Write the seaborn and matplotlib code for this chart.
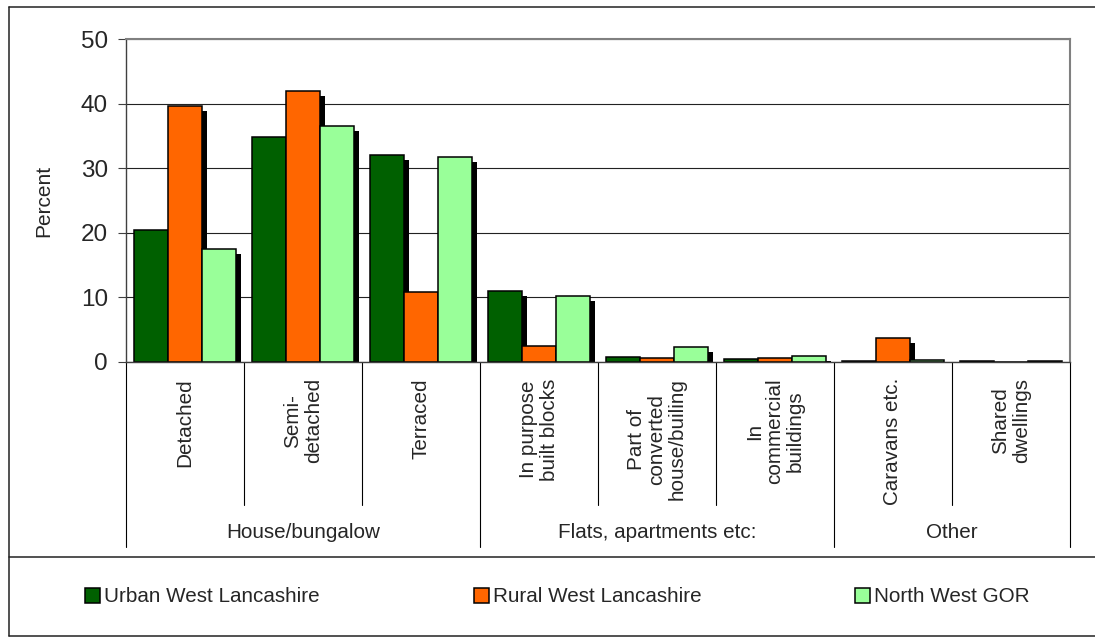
import numpy as np
import pandas as pd
import matplotlib
matplotlib.use('Agg')
import matplotlib.pyplot as plt
import matplotlib.patheffects as pe
from matplotlib.patches import Patch
from matplotlib.lines import Line2D
import seaborn as sns

# data
categories = ['Detached', 'Semi-\ndetached', 'Terraced', 'In purpose\nbuilt blocks',
              'Part of\nconverted\nhouse/builing', 'In\ncommercial\nbuildings',
              'Caravans etc.', 'Shared\ndwellings']
groups = ['House/bungalow', 'Flats, apartments etc:', 'Other']
group_sizes = [3, 3, 2]
series = ['Urban West Lancashire', 'Rural West Lancashire', 'North West GOR']
urban = [20.5, 34.9, 32.0, 11.0, 0.8, 0.5, 0.1, 0.1]
rural = [39.7, 41.9, 10.9, 2.5, 0.6, 0.6, 3.7, 0.0]
north_west = [17.5, 36.5, 31.8, 10.2, 2.3, 1.0, 0.3, 0.2]
colors = ['#006000', '#FF6600', '#99FF99']
yticks = [0, 10, 20, 30, 40, 50]

df = pd.DataFrame({
    'category': categories * 3,
    'area': np.repeat(series, len(categories)),
    'percent': urban + rural + north_west,
})

W, H = 1095, 640
sns.set_theme(style='white')
plt.rcParams['font.family'] = ['Liberation Sans', 'DejaVu Sans']


def px(x, y):
    # pixel position -> figure fraction
    return x / W, 1 - y / H


fig = plt.figure(figsize=(W / 100, H / 100), dpi=100)
ax = fig.add_axes([126 / W, 1 - 362 / H, 944 / W, 323 / H])

sns.barplot(data=df, x='category', y='percent', hue='area', order=categories,
            hue_order=series, palette=colors, width=0.864, saturation=1,
            edgecolor='black', linewidth=1.1, errorbar=None, legend=False, ax=ax)

# excel style drop shadow on every bar
for bar in ax.patches:
    bar.set_path_effects([pe.SimplePatchShadow(offset=(3.6, -3.6), shadow_rgbFace='black', alpha=1.0),
                          pe.Normal()])

ax.set_xlim(-0.5, len(categories) - 0.5)
ax.set_ylim(0, 50)
ax.set_yticks(yticks)
ax.set_axisbelow(True)
ax.yaxis.grid(True, color='#222222', lw=0.8)
ax.tick_params(axis='y', left=True, labelsize=17.5, length=6, width=0.8, color='#404040', pad=7)
ax.tick_params(axis='x', bottom=False, labelbottom=False)
ax.set_xlabel('')
ax.set_ylabel('Percent', fontsize=15)
ax.yaxis.set_label_coords(-0.077, 0.5)
for s in ['top', 'right']:
    ax.spines[s].set_color('#808080'); ax.spines[s].set_linewidth(1.5)
for s in ['left', 'bottom']:
    ax.spines[s].set_color('#404040'); ax.spines[s].set_linewidth(1.0)

# multi-level category axis
tr = ax.get_xaxis_transform()
for i, c in enumerate(categories):
    ax.text(i, -0.05, c, transform=tr, rotation=90, ha='center', va='top',
            multialignment='center', fontsize=14.9, linespacing=1.1)

start = 0
bounds = [-0.5]
for g, n in zip(groups, group_sizes):
    ax.text(start + (n - 1) / 2, -0.529, g, transform=tr, ha='center', va='center', fontsize=14.9)
    for k in range(1, n):
        ax.add_line(Line2D([start + k - 0.5] * 2, [0, -0.443], transform=tr, color='black',
                           lw=0.8, clip_on=False))
    start += n
    bounds.append(start - 0.5)
for b in bounds:
    ax.add_line(Line2D([b, b], [0, -0.573], transform=tr, color='black', lw=0.8, clip_on=False))

# chart frame and legend box
frame = [((9, 7), (1095, 7)), ((9, 7), (9, 636)), ((9, 557), (1095, 557)), ((9, 636), (1095, 636))]
for (x0, y0), (x1, y1) in frame:
    a, b = px(x0, y0), px(x1, y1)
    fig.add_artist(Line2D([a[0], b[0]], [a[1], b[1]], transform=fig.transFigure,
                          color='#222222', lw=1.1))

handles = [Patch(facecolor=c, edgecolor='black', linewidth=1.1) for c in colors]
fig.legend(handles, series, loc='center left', bbox_to_anchor=px(85, 597), ncol=3,
           frameon=False, fontsize=14.9, handlelength=0.72, handleheight=0.72,
           handletextpad=0.2, columnspacing=7.44, borderpad=0, borderaxespad=0)

fig.savefig('out.png', dpi=100)
plt.close()
